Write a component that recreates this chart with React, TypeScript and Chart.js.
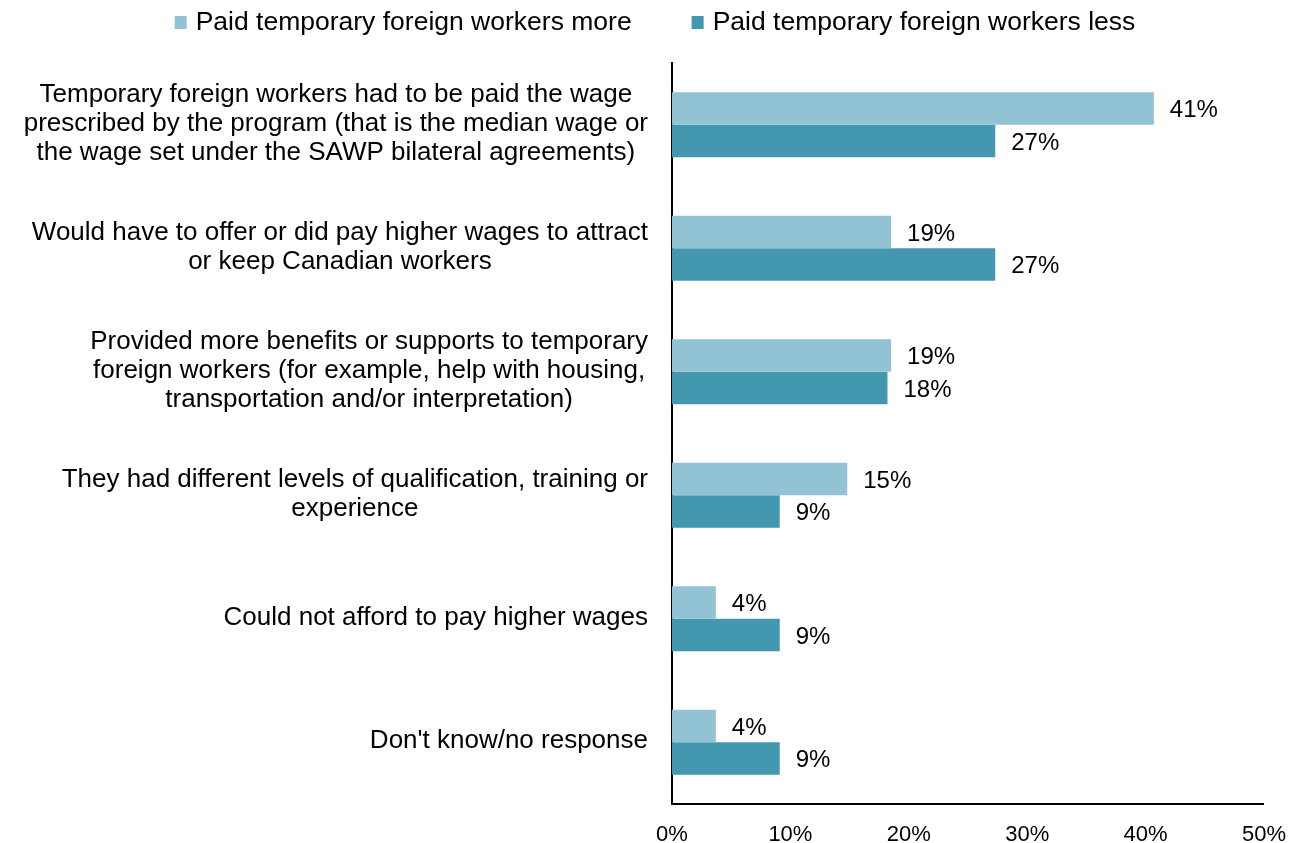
import React, { useEffect, useRef } from "react";
import { Chart, registerables } from "chart.js";

Chart.register(...registerables);

const categories: string[][] = [
  ["Temporary foreign workers had to be paid the wage", "prescribed by the program (that is the median wage or", "the wage set under the SAWP bilateral agreements)"],
  ["Would have to offer or did pay higher wages to attract", "or keep Canadian workers"],
  ["Provided more benefits or supports to temporary", "foreign workers (for example, help with housing,", "transportation and/or interpretation)"],
  ["They had different levels of qualification, training or", "experience"],
  ["Could not afford to pay higher wages"],
  ["Don't know/no response"],
];

const seriesNames = ["Paid temporary foreign workers more", "Paid temporary foreign workers less"];
const paidMore = [40.7, 18.5, 18.5, 14.8, 3.7, 3.7];
const paidLess = [27.3, 27.3, 18.2, 9.1, 9.1, 9.1];
const paidMoreLabels = ["41%", "19%", "19%", "15%", "4%", "4%"];
const paidLessLabels = ["27%", "27%", "18%", "9%", "9%", "9%"];
const xTicks = [0, 10, 20, 30, 40, 50];

const FONT = "'Liberation Sans', Arial, sans-serif";
const LIGHT = "rgb(146,195,212)";
const DARK = "rgb(67,152,176)";

const dataLabelPlugin = {
  id: "dataLabels",
  afterDatasetsDraw(chart: any) {
    const ctx = chart.ctx;
    const labelSets = [paidMoreLabels, paidLessLabels];
    ctx.save();
    ctx.font = `24px ${FONT}`;
    ctx.fillStyle = "#000";
    ctx.textAlign = "left";
    ctx.textBaseline = "middle";
    chart.data.datasets.forEach((_ds: any, di: number) => {
      const meta = chart.getDatasetMeta(di);
      meta.data.forEach((bar: any, i: number) => {
        ctx.fillText(labelSets[di][i], bar.x + 16, bar.y + 2);
      });
    });
    ctx.restore();
  },
};

const categoryLabelPlugin = {
  id: "categoryLabels",
  afterDraw(chart: any) {
    const ctx = chart.ctx;
    const yScale = chart.scales.y;
    const rightEdge = chart.chartArea.left - 24;
    const lineH = 29;
    ctx.save();
    ctx.font = `26px ${FONT}`;
    ctx.fillStyle = "#000";
    ctx.textAlign = "center";
    ctx.textBaseline = "middle";
    (chart.data.labels as string[][]).forEach((lines, i) => {
      const blockW = Math.max(...lines.map((l) => ctx.measureText(l).width));
      const cx = rightEdge - blockW / 2;
      const cy = yScale.getPixelForValue(i);
      const startY = cy - ((lines.length - 1) * lineH) / 2 - 1;
      lines.forEach((l, j) => ctx.fillText(l, cx, startY + j * lineH));
    });
    ctx.restore();
  },
};

const customLegendPlugin = {
  id: "customLegend",
  afterDraw(chart: any) {
    const ctx = chart.ctx;
    ctx.save();
    ctx.font = `26.5px ${FONT}`;
    const box = 12;
    const gapBoxText = 9;
    const gapItems = 60;
    const widths = chart.data.datasets.map((ds: any) => box + gapBoxText + ctx.measureText(ds.label).width);
    const total = widths.reduce((a: number, b: number) => a + b, 0) + gapItems * (widths.length - 1);
    let x = chart.width / 2 - total / 2 + 3;
    const cy = 23;
    chart.data.datasets.forEach((ds: any, i: number) => {
      ctx.fillStyle = ds.backgroundColor;
      ctx.fillRect(x, cy - 7, box, box + 1);
      ctx.fillStyle = "#000";
      ctx.textAlign = "left";
      ctx.textBaseline = "middle";
      ctx.fillText(ds.label, x + box + gapBoxText, cy);
      x += widths[i] + gapItems;
    });
    ctx.restore();
  },
};

export default function App() {
  const canvasRef = useRef<HTMLCanvasElement | null>(null);

  useEffect(() => {
    document.body.style.margin = "0";
    const canvas = canvasRef.current;
    if (!canvas) return;
    const chart = new Chart(canvas, {
      type: "bar",
      data: {
        labels: categories,
        datasets: [
          {
            label: seriesNames[0],
            data: paidMore,
            backgroundColor: LIGHT,
            categoryPercentage: 0.526,
            barPercentage: 1,
          },
          {
            label: seriesNames[1],
            data: paidLess,
            backgroundColor: DARK,
            categoryPercentage: 0.526,
            barPercentage: 1,
          },
        ],
      },
      options: {
        indexAxis: "y",
        animation: false,
        responsive: false,
        maintainAspectRatio: false,
        layout: { padding: { top: 63, left: 0, right: 34, bottom: 0 } },
        plugins: {
          legend: { display: false },
          tooltip: { enabled: false },
        },
        scales: {
          x: {
            min: 0,
            max: 50,
            afterBuildTicks(scale: any) {
              scale.ticks = xTicks.map((v) => ({ value: v }));
            },
            afterFit(scale: any) {
              scale.height = 39;
            },
            grid: { display: false, drawTicks: false },
            border: { display: true, color: "#000", width: 2 },
            ticks: {
              padding: 18,
              color: "#000",
              font: { family: FONT, size: 22 },
              callback: (v: any) => `${v}%`,
            },
          },
          y: {
            afterFit(scale: any) {
              scale.width = 672;
            },
            grid: { display: false, drawTicks: false },
            border: { display: true, color: "#000", width: 2 },
            ticks: { display: false },
          },
        },
      },
      plugins: [dataLabelPlugin, categoryLabelPlugin, customLegendPlugin],
    });
    return () => chart.destroy();
  }, []);

  return (
    <div style={{ width: 1304, height: 843 }}>
      <canvas ref={canvasRef} width={1304} height={843} style={{ display: "block" }} />
    </div>
  );
}
